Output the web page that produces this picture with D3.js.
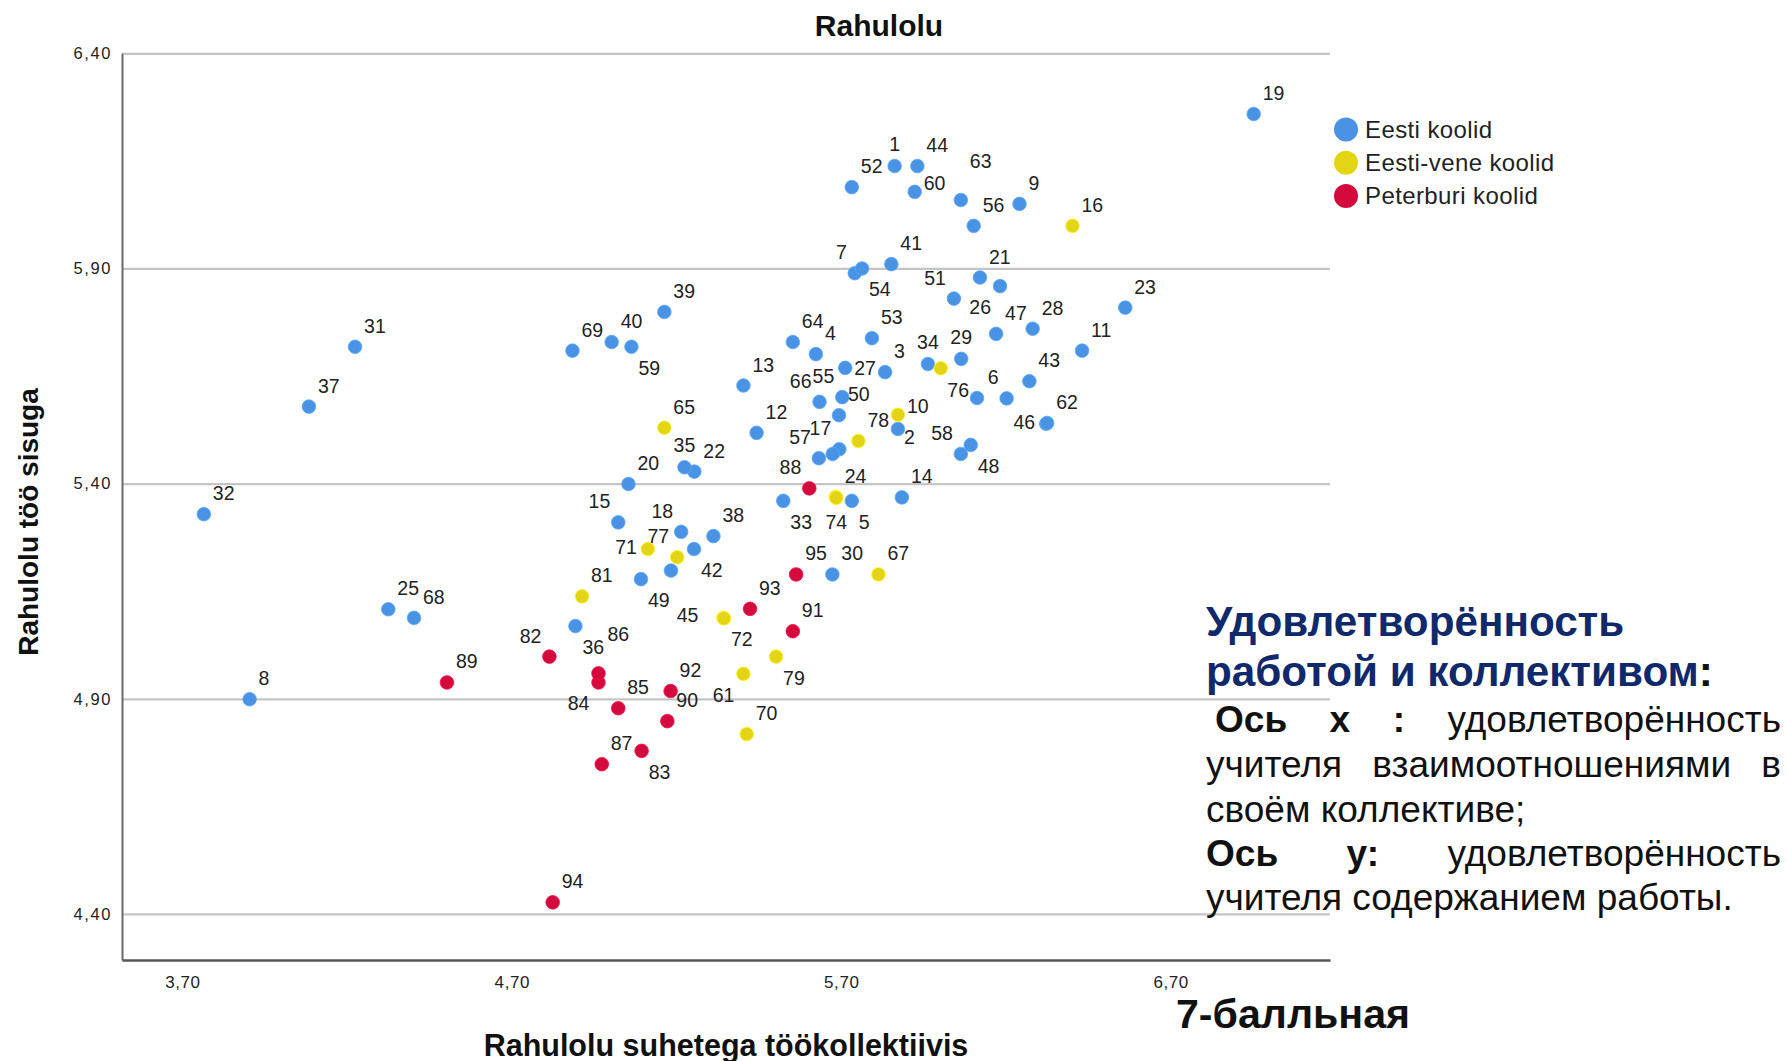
<!DOCTYPE html>
<html><head><meta charset="utf-8">
<script src="https://cdn.jsdelivr.net/npm/d3@7"></script>
<style>
html,body{margin:0;padding:0;background:#fff;}
svg{display:block;}
</style></head>
<body>
<svg id="chart" width="1787" height="1061"></svg>
<script>
// ---------------- data ----------------
const chartTitle = "Rahulolu";
const xAxisTitle = "Rahulolu suhetega töökollektiivis";
const yAxisTitle = "Rahulolu töö sisuga";
const groupNames = ["Eesti koolid", "Eesti-vene koolid", "Peterburi koolid"];
const xTickValues = [3.70, 4.70, 5.70, 6.70];
const xTickLabels = ["3,70", "4,70", "5,70", "6,70"];
const yTickValues = [4.40, 4.90, 5.40, 5.90, 6.40];
const yTickLabels = ["4,40", "4,90", "5,40", "5,90", "6,40"];

const eestiIds = [1,2,3,4,5,6,7,8,9,11,12,13,14,15,17,18,19,20,21,22,23,25,26,27,28,29,30,31,32,33,34,35,36,37,38,39,40,41,42,43,44,46,47,48,49,50,51,52,53,54,55,56,57,58,59,60,62,63,64,66,68,69,75,76,80];
const eestiX = [5.862,5.872,5.833,5.623,5.732,6.202,5.741,3.904,6.241,6.431,5.443,5.403,5.884,5.023,5.694,5.214,6.952,5.054,6.121,5.254,6.562,4.325,6.182,5.712,6.281,6.064,5.673,4.224,3.765,5.524,5.963,5.224,4.893,4.084,5.312,5.163,5.003,5.852,5.253,6.271,5.931,6.322,6.170,6.093,5.092,5.693,6.042,5.732,5.793,5.763,5.703,6.102,5.632,6.063,5.063,5.923,6.325,6.063,5.553,5.634,4.403,4.884,5.183,6.112,5.674];
const eestiY = [6.138,5.527,5.659,5.701,5.360,5.598,5.889,4.899,6.050,5.709,5.518,5.628,5.368,5.310,5.480,5.288,6.259,5.399,5.879,5.428,5.809,5.108,5.859,5.669,5.760,5.690,5.189,5.718,5.329,5.360,5.678,5.438,5.069,5.579,5.278,5.799,5.729,5.910,5.248,5.638,6.138,5.539,5.748,5.490,5.178,5.559,5.830,6.089,5.738,5.900,5.601,5.999,5.459,5.469,5.718,6.078,5.541,6.059,5.729,5.590,5.088,5.709,5.198,5.599,5.469];

const eestiVeneIds = [10,16,24,45,61,65,67,70,71,72,73,74,77,78,79,81];
const eestiVeneX = [5.872,6.402,5.683,5.342,5.403,5.163,5.813,5.413,5.113,5.344,6.002,5.685,5.202,5.752,5.502,4.913];
const eestiVeneY = [5.560,5.999,5.369,5.088,4.958,5.530,5.189,4.818,5.248,5.087,5.668,5.367,5.229,5.499,4.998,5.138];

const peterburiIds = [82,83,84,85,86,87,88,89,90,91,92,93,94,95];
const peterburiX = [4.814,5.094,4.963,5.023,4.963,4.973,5.603,4.503,5.172,5.553,5.182,5.423,4.824,5.563];
const peterburiY = [4.998,4.779,4.938,4.878,4.959,4.748,5.389,4.938,4.848,5.057,4.918,5.109,4.427,5.189];

// label placement code per case (layout only)
const labelPlacement = {
  1:"u",2:"rd",3:"ur",4:"ur",5:"lr",6:"ul",7:"ul",8:"ur",9:"ur",11:"ur",12:"ur",13:"ur",14:"ur",15:"ul",17:"ul",18:"ul",19:"ur",20:"ur",21:"ur",22:"ur",23:"ur",25:"ur",26:"ll",27:"r",28:"ur",29:"u",30:"ur",31:"ur",32:"ur",33:"lr",34:"u",35:"u",36:"lr",37:"ur",38:"ur",39:"ur",40:"ur",41:"ur",42:"lr",43:"ur",44:"ur",46:"l",47:"ur",48:"lr",49:"lr",50:"ur",51:"ul",52:"ur",53:"ur",54:"lr",55:"ul",56:"ur",57:"ul",58:"ul",59:"lr",60:"ru",62:"ur",63:"ur2",64:"ur",66:"ul",68:"ur",69:"ur",75:"none",76:"lu",80:"none",
  10:"ru",16:"ur",24:"ur",45:"lfar",61:"ll",65:"ur",67:"ur",70:"ur",71:"l",72:"lr",73:"none",74:"d",77:"ul",78:"ur",79:"lr",81:"ur",
  82:"ul",83:"lr",84:"ll",85:"ur",86:"ur2",87:"ur",88:"ul",89:"ur",90:"ur",91:"ur",92:"ur",93:"ur",94:"ur",95:"ur"
};

const noteHeading = ["Удовлетворённость", "работой и коллективом"];
const noteLines = [
  [{t:"Ось",b:true},{t:"х",b:true},{t:":",b:true},{t:"удовлетворённость",b:false}],
  [{t:"учителя",b:false},{t:"взаимоотношениями",b:false},{t:"в",b:false}],
  "своём коллективе;",
  [{t:"Ось",b:true},{t:"у:",b:true},{t:"удовлетворённость",b:false}],
  "учителя содержанием работы."
];
const scaleNote = "7-балльная";

// ---------------- styles ----------------
const colors = ["#4a92e3", "#e3d415", "#d30b3d"];
const FONT = "'Liberation Sans', Arial, sans-serif";
const svg = d3.select("#chart");

const x = d3.scaleLinear().domain([3.5166, 7.1836]).range([122, 1330]);
const y = d3.scaleLinear().domain([4.293, 6.40]).range([960, 53.3]);

// gridlines
svg.append("g")
  .attr("transform", "translate(122,0)")
  .call(d3.axisLeft(y).tickValues(yTickValues).tickSize(-(1330 - 122)).tickFormat(""))
  .call(g => g.select(".domain").remove())
  .call(g => g.selectAll("line").attr("stroke", "#c4c4c4").attr("stroke-width", 2.2));

// y axis
svg.append("g")
  .attr("transform", "translate(122,0)")
  .call(d3.axisLeft(y).tickValues(yTickValues).tickSize(0).tickPadding(10)
        .tickFormat((d, i) => yTickLabels[i]))
  .call(g => g.select(".domain").attr("stroke", "#6a6a6a").attr("stroke-width", 2))
  .call(g => g.selectAll("text").attr("font-family", FONT).attr("font-size", 16.5)
        .attr("letter-spacing", "1.6px").attr("fill", "#222"));

// x axis
svg.append("g")
  .attr("transform", "translate(0,960)")
  .call(d3.axisBottom(x).tickValues(xTickValues).tickSize(0).tickPadding(16)
        .tickFormat((d, i) => xTickLabels[i]))
  .call(g => g.select(".domain").attr("stroke", "#555").attr("stroke-width", 2.4))
  .call(g => g.selectAll("text").attr("font-family", FONT).attr("font-size", 17)
        .attr("letter-spacing", "0.6px").attr("fill", "#222"));

// titles
svg.append("text").attr("x", 879).attr("y", 36).attr("text-anchor", "middle")
  .attr("font-family", FONT).attr("font-weight", "bold").attr("font-size", 30)
  .attr("fill", "#111").text(chartTitle);
svg.append("text").attr("x", 726).attr("y", 1056).attr("text-anchor", "middle")
  .attr("font-family", FONT).attr("font-weight", "bold").attr("font-size", 30.5)
  .attr("fill", "#111").text(xAxisTitle);
svg.append("text").attr("transform", "translate(38,522) rotate(-90)").attr("text-anchor", "middle")
  .attr("font-family", FONT).attr("font-weight", "bold").attr("font-size", 28)
  .attr("fill", "#111").text(yAxisTitle);

// points
const groups = [
  {ids: eestiIds, xs: eestiX, ys: eestiY},
  {ids: eestiVeneIds, xs: eestiVeneX, ys: eestiVeneY},
  {ids: peterburiIds, xs: peterburiX, ys: peterburiY}
];
const points = [];
groups.forEach((g, gi) => g.ids.forEach((id, i) => points.push({id, g: gi, vx: g.xs[i], vy: g.ys[i]})));

const place = {
  ur: ["start", 9, -14], ul: ["end", -8, -14], lr: ["start", 7, 28], ll: ["end", -9, 28],
  l: ["end", -11, 5], lu: ["end", -8, -1], r: ["start", 9, 7], ru: ["start", 9, -2],
  rd: ["start", 6, 15], u: ["middle", 0, -15], d: ["middle", 0, 31],
  ur2: ["start", 9, -32], lfar: ["end", -25, 4]
};

svg.append("g").selectAll("circle").data(points).join("circle")
  .attr("cx", d => x(d.vx)).attr("cy", d => y(d.vy)).attr("r", 6.8)
  .attr("fill", d => colors[d.g]).attr("stroke", d => d3.color(colors[d.g]).brighter(0.4))
  .attr("stroke-width", 0.8);

svg.append("g").selectAll("text").data(points.filter(d => labelPlacement[d.id] !== "none")).join("text")
  .attr("x", d => x(d.vx) + place[labelPlacement[d.id]][1])
  .attr("y", d => y(d.vy) + place[labelPlacement[d.id]][2])
  .attr("text-anchor", d => place[labelPlacement[d.id]][0])
  .attr("font-family", FONT).attr("font-size", 19.5).attr("fill", "#222")
  .text(d => d.id);

// legend
const leg = svg.append("g");
groupNames.forEach((name, i) => {
  const cy = 129.5 + i * 33.2;
  leg.append("circle").attr("cx", 1346).attr("cy", cy).attr("r", 12).attr("fill", colors[i]);
  leg.append("text").attr("x", 1365).attr("y", cy + 8.5).attr("font-family", FONT)
    .attr("font-size", 24).attr("letter-spacing", "0.4px").attr("fill", "#222").text(name);
});

// ---------------- right-hand note ----------------
function measure(txt, weight, size) {
  const t = svg.append("text").attr("font-family", FONT).attr("font-weight", weight)
    .attr("font-size", size).text(txt);
  const w = t.node().getComputedTextLength();
  t.remove();
  return w;
}
const headFs = 100 * 507 / measure(noteHeading[1] + ":", "bold", 100);
const bodyFs = 100 * 527 / measure(noteLines[4], "normal", 100);
const scaleFs = 100 * 234 / measure(scaleNote, "bold", 100);
const navy = "#10296b";

svg.append("text").attr("x", 1206).attr("y", 636).attr("font-family", FONT)
  .attr("font-weight", "bold").attr("font-size", headFs).attr("fill", navy).text(noteHeading[0]);
const h2 = svg.append("text").attr("x", 1206).attr("y", 686).attr("font-family", FONT)
  .attr("font-weight", "bold").attr("font-size", headFs);
h2.append("tspan").attr("fill", navy).text(noteHeading[1]);
h2.append("tspan").attr("fill", "#111").text(":");

const lineY = [732, 777, 822, 866, 910];
const lineX0 = [1215, 1206, 1206, 1206, 1206];
const x1 = 1781;
noteLines.forEach((ln, li) => {
  if (typeof ln === "string") {
    svg.append("text").attr("x", lineX0[li]).attr("y", lineY[li]).attr("font-family", FONT)
      .attr("font-size", bodyFs).attr("fill", "#111").text(ln);
  } else {
    const widths = ln.map(w => measure(w.t, w.b ? "bold" : "normal", bodyFs));
    const total = d3.sum(widths);
    const gap = (x1 - lineX0[li] - total) / (ln.length - 1);
    let cx = lineX0[li];
    ln.forEach((w, wi) => {
      svg.append("text").attr("x", cx).attr("y", lineY[li]).attr("font-family", FONT)
        .attr("font-weight", w.b ? "bold" : "normal").attr("font-size", bodyFs)
        .attr("fill", "#111").text(w.t);
      cx += widths[wi] + gap;
    });
  }
});

svg.append("text").attr("x", 1176).attr("y", 1028).attr("font-family", FONT)
  .attr("font-weight", "bold").attr("font-size", scaleFs).attr("fill", "#111").text(scaleNote);
</script>
</body></html>
